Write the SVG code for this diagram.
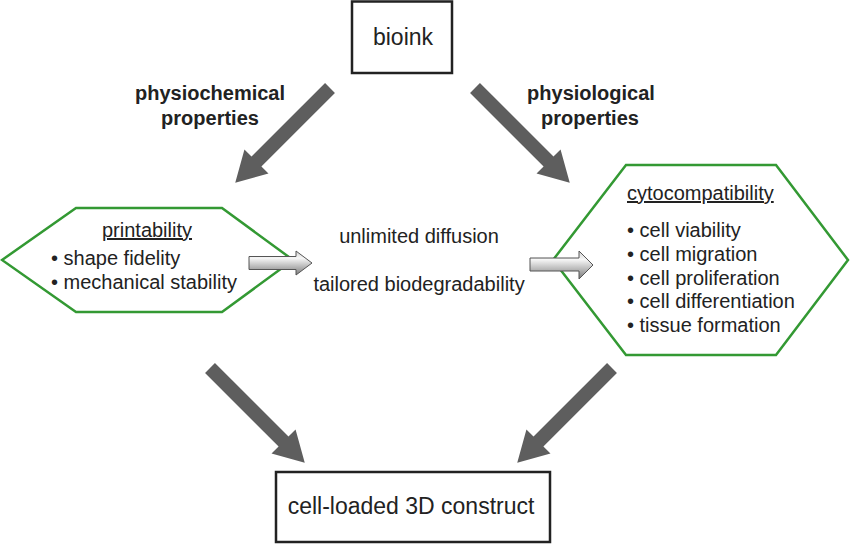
<svg xmlns="http://www.w3.org/2000/svg" width="850" height="544" viewBox="0 0 850 544">
<defs>
<style>
text{font-family:"Liberation Sans",Arial,sans-serif;fill:#222}
.box{fill:#fff;stroke:#222;stroke-width:2.5}
.hex{fill:#fff;stroke:#339933;stroke-width:2.5}
.t23{font-size:23px}
.t20{font-size:20px}
.lab{font-size:20px;font-weight:bold}
.big{fill:#5e5e5e}
.blk{fill:url(#sil);stroke:#555;stroke-width:1}
</style>
<linearGradient id="sil" x1="0" y1="0" x2="0" y2="1">
<stop offset="0" stop-color="#d0d0d0"/>
<stop offset="0.3" stop-color="#f7f7f7"/>
<stop offset="1" stop-color="#7a7a7a"/>
</linearGradient>
<polygon id="bigArrow" points="0,-7 104,-7 104,-17 134,0 104,17 104,7 0,7"/>
</defs>
<rect width="850" height="544" fill="#fff"/>

<g id="bioink">
<rect class="box" x="352" y="1.5" width="100" height="71.5"/>
<text class="t23" x="403" y="45" text-anchor="middle">bioink</text>
</g>

<g id="construct">
<rect class="box" x="276" y="472" width="274" height="70"/>
<text class="t23" x="411" y="514" text-anchor="middle">cell-loaded 3D construct</text>
</g>

<g id="printability">
<polygon class="hex" points="2,260 76,208 222,208 293,260 222,312 76,312"/>
<text class="t20" x="147" y="237" text-anchor="middle" text-decoration="underline">printability</text>
<text class="t20" x="51" y="265">• shape fidelity</text>
<text class="t20" x="51" y="289">• mechanical stability</text>
</g>

<g id="cytocompatibility">
<polygon class="hex" points="553,260 626,165 776,165 848,260 776,355 626,355"/>
<text class="t20" x="627" y="200" text-decoration="underline">cytocompatibility</text>
<text class="t20" x="627" y="237">• cell viability</text>
<text class="t20" x="627" y="261">• cell migration</text>
<text class="t20" x="627" y="285">• cell proliferation</text>
<text class="t20" x="627" y="308">• cell differentiation</text>
<text class="t20" x="627" y="332">• tissue formation</text>
</g>

<g id="middle">
<text class="t20" x="419" y="243" text-anchor="middle">unlimited diffusion</text>
<text class="t20" x="419" y="291" text-anchor="middle">tailored biodegradability</text>
</g>

<g id="labels">
<text class="lab" x="210" y="100" text-anchor="middle">physiochemical</text>
<text class="lab" x="210" y="125" text-anchor="middle">properties</text>
<text class="lab" x="591" y="100" text-anchor="middle">physiological</text>
<text class="lab" x="590" y="125" text-anchor="middle">properties</text>
</g>

<g id="connectors">
<use href="#bigArrow" class="big" transform="translate(330,88) rotate(135)"/>
<use href="#bigArrow" class="big" transform="translate(475,88) rotate(45)"/>
<use href="#bigArrow" class="big" transform="translate(210,368) rotate(45)"/>
<use href="#bigArrow" class="big" transform="translate(612,368) rotate(135)"/>
<polygon class="blk" points="249,256.5 296,256.5 296,251 312,263 296,275 296,269.5 249,269.5"/>
<polygon class="blk" points="530,258 579,258 579,251 593,265 579,279 579,271 530,271"/>
</g>
</svg>
